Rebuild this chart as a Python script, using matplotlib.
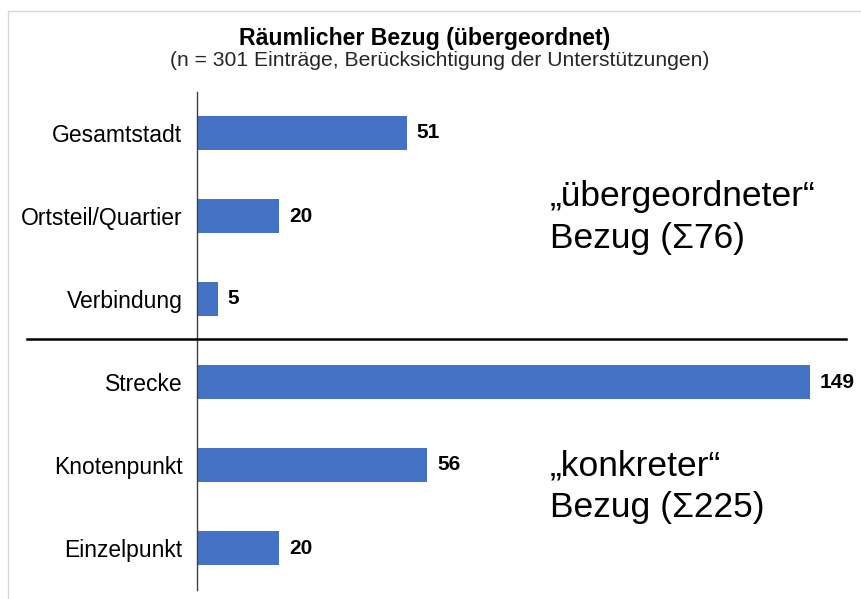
import matplotlib.pyplot as plt
from matplotlib.patches import Rectangle
from matplotlib.lines import Line2D

plt.rcParams['font.family'] = ['Liberation Sans', 'DejaVu Sans']

categories = ["Gesamtstadt", "Ortsteil/Quartier", "Verbindung", "Strecke", "Knotenpunkt", "Einzelpunkt"]
values = [51, 20, 5, 149, 56, 20]
title = "Räumlicher Bezug (übergeordnet)"
subtitle = "(n = 301 Einträge, Berücksichtigung der Unterstützungen)"
group_labels = [("„übergeordneter“", "Bezug (Σ76)"), ("„konkreter“", "Bezug (Σ225)")]

W, H = 862, 599
fig = plt.figure(figsize=(W / 100, H / 100), dpi=100)

# light frame
fig.patches.append(Rectangle((8 / W, -0.1), 1.2, (H - 11) / H + 0.1, transform=fig.transFigure,
                             fill=False, edgecolor='#d9d9d9', linewidth=1))

x0, x1 = 197, 846
y_top, y_bot = 91.5, 589.5
ax = fig.add_axes([x0 / W, 1 - y_bot / H, (x1 - x0) / W, (y_bot - y_top) / H])
xmax = (x1 - x0) / 4.115
ax.set_xlim(0, xmax)
ypos = list(range(len(categories)))
ax.set_ylim(len(categories) - 0.5, -0.5)

ax.barh(ypos, values, height=0.4, color='#4472C4')
for y, v in zip(ypos, values):
    ax.text(v + 2.4, y, str(v), va='center', ha='left', fontsize=15, fontweight='bold', color='black')

ax.set_yticks(ypos)
ax.set_yticklabels(categories, fontsize=16.5)
ax.tick_params(axis='y', length=0, pad=10.5)
ax.set_xticks([])
for s in ['top', 'right', 'bottom']:
    ax.spines[s].set_visible(False)
ax.spines['left'].set_color('#404040')
ax.spines['left'].set_linewidth(1)

# separator line
fig.add_artist(Line2D([27 / W, 846 / W], [1 - 339 / H, 1 - 339 / H], color='black', linewidth=1.8))

fig.text(425 / W, 1 - 38 / H, title, ha='center', va='center', fontsize=16.7, fontweight='bold')
fig.text(440 / W, 1 - 61 / H, subtitle, ha='center', va='center', fontsize=15.2, color='#262626')

for (l1, l2), b1, b2 in zip(group_labels, [206, 475], [248, 517]):
    fig.text(550 / W, 1 - b1 / H, l1, ha='left', va='baseline', fontsize=25.5)
    fig.text(550 / W, 1 - b2 / H, l2, ha='left', va='baseline', fontsize=25.5)

fig.savefig('out.png', dpi=100, facecolor='white')
